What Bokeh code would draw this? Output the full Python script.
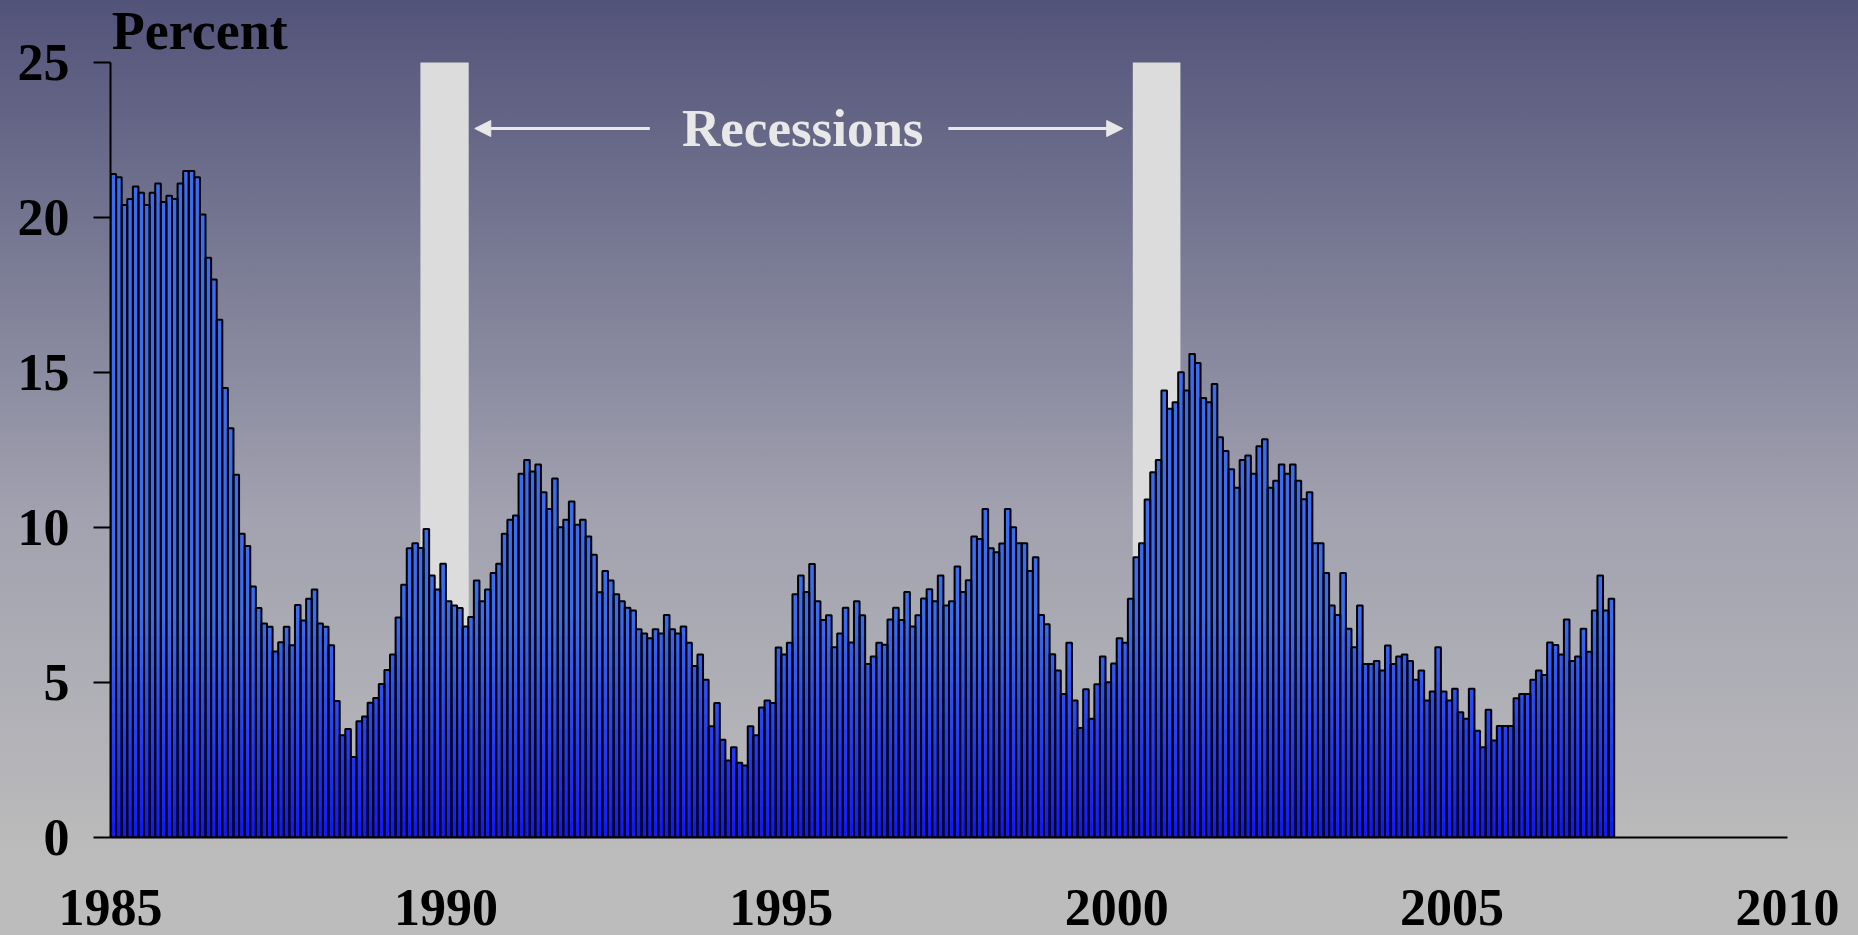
import numpy as np
from bokeh.plotting import figure
from bokeh.models import (Label, Arrow, NormalHead, FixedTicker, GlobalInlineStyleSheet)
from bokeh.embed import file_html
from bokeh.resources import INLINE

# ---------------- data ----------------
start_year = 1985
year_ticks = [1985, 1990, 1995, 2000, 2005, 2010]
pct_ticks = [0, 5, 10, 15, 20, 25]

# monthly values, percent
rate_pct = [
    21.4, 21.3, 20.4, 20.6, 21.0, 20.8, 20.4, 20.8, 21.1, 20.5, 20.7, 20.6, 21.1,
    21.5, 21.5, 21.3, 20.1, 18.7, 18.0, 16.7, 14.5, 13.2, 11.7, 9.8, 9.4, 8.1,
    7.4, 6.9, 6.8, 6.0, 6.3, 6.8, 6.2, 7.5, 7.0, 7.7, 8.0, 6.9, 6.8, 6.2,
    4.4, 3.3, 3.5, 2.6, 3.75, 3.9, 4.35, 4.5, 4.95, 5.4, 5.9, 7.1, 8.15, 9.33,
    9.49, 9.34, 9.95, 8.45, 8.0, 8.83, 7.62, 7.48, 7.40, 6.81, 7.11, 8.29, 7.62,
    8.0, 8.53, 8.83, 9.80, 10.25, 10.39, 11.73, 12.18, 11.81, 12.03, 11.14, 10.60,
    11.58, 10.01,
    10.25, 10.84, 10.09, 10.25, 9.71, 9.12, 7.91, 8.60, 8.29, 7.85, 7.62, 7.41,
    7.32, 6.72, 6.58, 6.43, 6.72, 6.58, 7.18, 6.72, 6.58, 6.81, 6.28, 5.53, 5.90, 5.09,
    3.59, 4.34, 3.15, 2.48, 2.91, 2.41, 2.32, 3.59, 3.30, 4.19, 4.42, 4.34, 6.13,
    5.90, 6.28, 7.85, 8.45, 7.92, 8.82, 7.62, 7.02, 7.17, 6.14, 6.58, 7.41, 6.29, 7.62,
    7.17, 5.60, 5.84, 6.28, 6.22, 7.03, 7.41, 7.02, 7.92, 6.81, 7.17, 7.71, 8.01,
    7.62, 8.45, 7.48, 7.62, 8.74, 7.92, 8.30, 9.71, 9.63, 10.60, 9.33, 9.20, 9.48, 10.60,
    10.01, 9.49, 9.49, 8.60, 9.04, 7.18, 6.88, 5.91, 5.39, 4.63, 6.28, 4.42, 3.53,
    4.78, 3.83, 4.94, 5.84, 5.01, 5.61, 6.43, 6.28, 7.70, 9.04, 9.49, 10.90, 11.78,
    12.18, 14.42, 13.83, 14.04, 15.01, 14.42, 15.60, 15.31, 14.18, 14.04, 14.63,
    12.91, 12.47, 11.88, 11.28, 12.18, 12.32, 11.73, 12.62, 12.85, 11.28, 11.51,
    12.03, 11.73, 12.03, 11.51, 10.91, 11.14,
    9.49, 9.49, 8.53, 7.48, 7.18, 8.53, 6.73, 6.14, 7.48, 5.60, 5.60, 5.69, 5.39,
    6.19, 5.60, 5.84, 5.90, 5.69, 5.09, 5.39, 4.42, 4.71, 6.14, 4.71, 4.42, 4.80, 4.04,
    3.83, 4.80, 3.44, 2.91, 4.12, 3.13, 3.60, 3.60, 3.60, 4.49, 4.63, 4.63, 5.09,
    5.39, 5.24, 6.29, 6.21, 5.90, 7.03, 5.69, 5.84, 6.73, 5.99, 7.32, 8.45, 7.32, 7.70,
]

recession_start = [1989.62, 2000.24]
recession_end = [1990.34, 2000.95]
recession_label = "Recessions"
y_label = "Percent"

# ---------------- figure ----------------
FONT = "Liberation Serif"
W, H = 1842, 935

page_css = """
html { min-height: 100%;
       background: linear-gradient(to bottom, #525379 0px, #a2a2b0 520px, #bcbcbc 860px) no-repeat;
       background-color: #bcbcbc; }
body { background: transparent; }
"""

p = figure(width=W, height=H, x_range=(1985, 2010), y_range=(0, 27.0),
           output_backend="svg", toolbar_location=None,
           min_border_left=110, min_border_top=0, min_border_right=55,
           min_border_bottom=98)
p.stylesheets = [GlobalInlineStyleSheet(css=page_css)]
p.border_fill_alpha = 0
p.background_fill_alpha = 0
p.outline_line_color = None
p.grid.visible = False

# recession shading
p.quad(left=recession_start, right=recession_end, bottom=0, top=25,
       fill_color="#dcdcdc", line_color=None)

# bars with a vertical colour gradient (drawn as stacked colour bands)
vals = np.array(rate_pct)
xs = start_year + (np.arange(len(vals)) + 0.5) / 12.0
bw = 1.0 / 12.0

c_low = np.array([18, 22, 255])
c_high = np.array([58, 108, 242])
edges = list(np.arange(0, 7.01, 0.5)) + [30]
for lo, hi in zip(edges[:-1], edges[1:]):
    mask = vals > lo
    if not mask.any():
        continue
    mid = min((lo + hi) / 2.0, 7.0)
    t = min(mid / 7.0, 1.0)
    c = (c_low + (c_high - c_low) * t).astype(int)
    col = "#%02x%02x%02x" % tuple(c)
    tops = np.minimum(vals[mask], hi + 0.08)
    p.vbar(x=xs[mask], width=bw, bottom=lo, top=tops, fill_color=col, line_color=None)

p.vbar(x=xs, width=bw, bottom=0, top=vals, fill_alpha=0,
       line_color="black", line_width=2)

# axes
for ax in (p.xaxis[0], p.yaxis[0]):
    ax.axis_line_color = "black"
    ax.axis_line_width = 2
    ax.major_label_text_font = FONT
    ax.major_label_text_font_style = "bold"
    ax.major_label_text_font_size = "52px"
    ax.major_label_text_color = "black"
    ax.minor_tick_line_color = None
    ax.major_tick_line_width = 2
    ax.major_tick_in = 0

p.yaxis.ticker = FixedTicker(ticks=pct_ticks)
p.yaxis.bounds = (0, 25)
p.yaxis.major_tick_out = 17
p.yaxis.major_label_standoff = 24

p.xaxis.ticker = FixedTicker(ticks=year_ticks)
p.xaxis.major_tick_out = 0
p.xaxis.major_tick_line_color = None
p.xaxis.major_label_standoff = 52

# "Percent" title at top-left
p.add_layout(Label(x=1985.02, y=26.03, text=y_label, text_font=FONT,
                   text_font_style="bold", text_font_size="54px",
                   text_color="black", text_baseline="middle", text_align="left"))

# "Recessions" label and arrows
p.add_layout(Label(x=1995.32, y=22.89, text=recession_label, text_font=FONT,
                   text_font_style="bold", text_font_size="53px",
                   text_color="#e8e8e8", text_baseline="middle", text_align="center"))

arrow_col = "#e8e8e8"
p.add_layout(Arrow(end=NormalHead(size=16, fill_color=arrow_col, line_color=arrow_col),
                   x_start=1993.04, y_start=22.87, x_end=1990.43, y_end=22.87,
                   line_color=arrow_col, line_width=3))
p.add_layout(Arrow(end=NormalHead(size=16, fill_color=arrow_col, line_color=arrow_col),
                   x_start=1997.49, y_start=22.87, x_end=2000.09, y_end=22.87,
                   line_color=arrow_col, line_width=3))

open("out.html", "w").write(file_html(p, INLINE))
